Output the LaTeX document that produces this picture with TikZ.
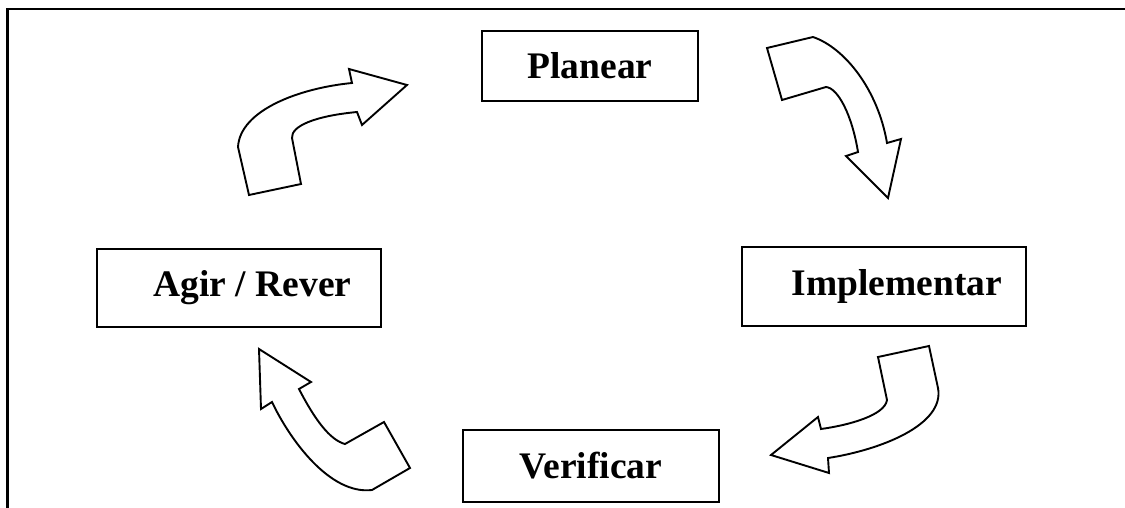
\documentclass[tikz,border=0pt]{standalone}
\usepackage{fontspec}
\setmainfont{Liberation Serif}
\begin{document}
\begin{tikzpicture}[x=1pt,y=-1pt,
  stage/.style={draw=black,line width=2pt,rectangle,inner sep=0pt,
    font=\bfseries\fontsize{37.5}{44}\selectfont},
  blockarrow/.style={draw=black,line width=1.9pt,fill=white,line join=miter},
  frameline/.style={draw=black,line width=2.8pt}]
\useasboundingbox (0,0) rectangle (1125,508);
% partial frame (top and left edges)
\coordinate (fTL) at (7.5,9);
\coordinate (fTR) at (1125,9);
\coordinate (fBL) at (7.5,508);
\draw[frameline] (fTR) -- (fTL) -- (fBL);
% stages
\node[stage,minimum width=216pt,minimum height=70pt] (plan) at (590,66) {Planear};
\node[stage,minimum width=284pt,minimum height=79pt] (impl) at (884,286.5) {\hspace*{26pt}Implementar};
\node[stage,minimum width=256pt,minimum height=72pt] (verif) at (591,466) {Verificar};
\node[stage,minimum width=284pt,minimum height=78pt] (agir) at (239,288) {\hspace*{27pt}Agir / Rever};
% block arrow: Agir -> Planear
\draw[blockarrow] (249,195) -- (301,184) -- (292,138)
  .. controls (291,126) and (315,116) .. (357,112)
  -- (362,125) -- (407,85) -- (349,69) -- (352,83)
  .. controls (300,88) and (240,110) .. (238,147) -- cycle;
% block arrow: Planear -> Implementar
\draw[blockarrow] (767,48) -- (813,37)
  .. controls (845,48) and (878,90) .. (887,143)
  -- (901,139) -- (888,198) -- (846,156) -- (858,152)
  .. controls (852,115) and (838,88) .. (826,87) -- (782,100) -- cycle;
% block arrow: Implementar -> Verificar
\draw[blockarrow] (878,357) -- (929,346) -- (938,388)
  .. controls (945,425) and (880,450) .. (828,458)
  -- (829,473) -- (771,455) -- (818,417) -- (821,429)
  .. controls (850,425) and (885,415) .. (887,400) -- cycle;
% block arrow: Verificar -> Agir
\draw[blockarrow] (259,349) -- (311,382) -- (299,389)
  .. controls (315,420) and (330,440) .. (345,444)
  -- (384,422) -- (410,468) -- (372,490)
  .. controls (330,495) and (290,440) .. (272,402)
  -- (261,409) -- cycle;
\end{tikzpicture}
\end{document}
